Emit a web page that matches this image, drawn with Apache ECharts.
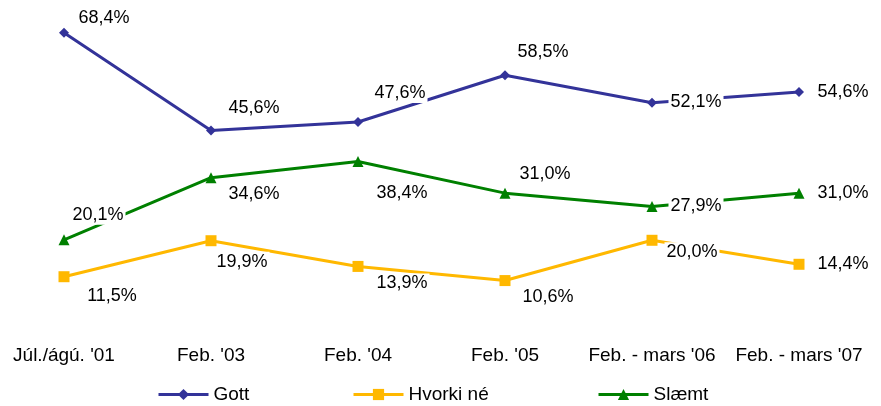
<!DOCTYPE html>
<html>
<head>
<meta charset="utf-8">
<script src="https://cdn.jsdelivr.net/npm/echarts@6/dist/echarts.min.js"></script>
<style>
  html, body { margin: 0; padding: 0; background: #fff; }
  #chart { width: 881px; height: 406px; }
</style>
</head>
<body>
<div id="chart"></div>
<script>
// categories and values
var categories = ["Júl./ágú. '01", "Feb. '03", "Feb. '04", "Feb. '05", "Feb. - mars '06", "Feb. - mars '07"];
var gott = [68.4, 45.6, 47.6, 58.5, 52.1, 54.6];
var hvorki = [11.5, 19.9, 13.9, 10.6, 20.0, 14.4];
var slaemt = [20.1, 34.6, 38.4, 31.0, 27.9, 31.0];

// where each value label sits relative to its point (px)
var gottOffsets = [[40, -15], [43, -23], [42, -29], [38, -23], [44, -1], [44, 0]];
var hvorkiOffsets = [[48, 19], [31, 21], [44, 17], [43, 16], [40, 12], [44, 0]];
var slaemtOffsets = [[34, -25], [43, 16], [44, 32], [40, -19], [44, 0], [44, 0]];

var font = 'Liberation Sans';

function withLabels(values, offsets) {
  var out = [];
  for (var i = 0; i < values.length; i++) {
    out.push({
      value: values[i],
      label: { offset: offsets[i] }
    });
  }
  return out;
}

function makeSeries(name, values, offsets, color, symbol, size) {
  return {
    name: name,
    type: 'line',
    data: withLabels(values, offsets),
    symbol: symbol,
    symbolSize: size,
    lineStyle: { color: color, width: 3 },
    itemStyle: { color: color },
    label: {
      show: true,
      position: 'inside',
      color: '#000',
      fontFamily: font,
      fontSize: 18,
      backgroundColor: '#fff',
      padding: [1, 2],
      formatter: function (p) {
        return p.value.toFixed(1).replace('.', ',') + '%';
      }
    },
    emphasis: { disabled: true },
    animation: false
  };
}

var chart = echarts.init(document.getElementById('chart'));

function legendAt(left, name) {
  return {
    data: [name],
    left: left,
    top: 380,
    itemWidth: 50,
    itemHeight: 14,
    itemGap: 5,
    lineStyle: { width: 3 },
    textStyle: { fontFamily: font, fontSize: 19, color: '#000' }
  };
}

var option = {
  backgroundColor: '#fff',
  animation: false,
  legend: [
    legendAt(152, 'Gott'),
    legendAt(347, 'Hvorki né'),
    legendAt(592, 'Slæmt')
  ],
  grid: { left: 64, right: 82, top: 26, bottom: 80 },
  xAxis: {
    type: 'category',
    data: categories,
    boundaryGap: false,
    axisLine: { show: false },
    axisTick: { show: false },
    axisLabel: {
      color: '#000',
      fontFamily: font,
      fontSize: 19,
      margin: 20,
      interval: 0
    }
  },
  yAxis: {
    type: 'value',
    min: 0,
    max: 70,
    show: false
  },
  series: [
    makeSeries('Gott', gott, gottOffsets, '#333399', 'diamond', 10),
    makeSeries('Hvorki né', hvorki, hvorkiOffsets, '#FFB800', 'rect', 11),
    makeSeries('Slæmt', slaemt, slaemtOffsets, '#008000', 'triangle', 11)
  ]
};

chart.setOption(option);
</script>
</body>
</html>
